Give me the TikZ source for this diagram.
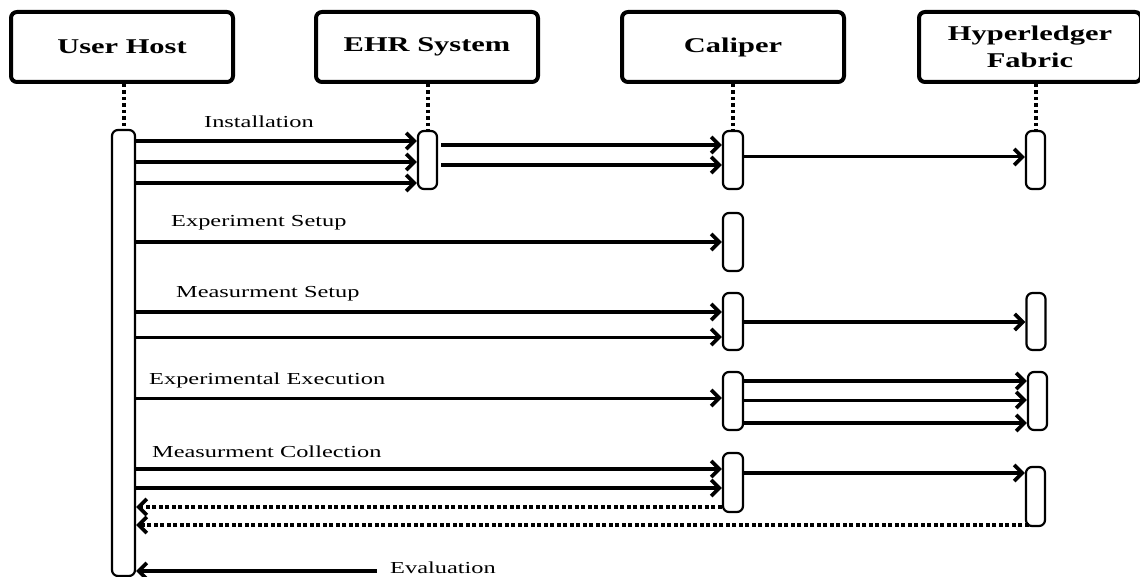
\documentclass[tikz,border=0pt]{standalone}
\usepackage{fontspec}
\setmainfont{Liberation Serif}[FakeStretch=1.45]
\usetikzlibrary{arrows.meta}
\begin{document}
\begin{tikzpicture}[x=1pt,y=-1pt,
  head/.style={draw, line width=4pt, rounded corners=6pt, minimum width=222pt,
    minimum height=70pt, inner sep=0pt, align=center,
    font=\fontsize{21}{26}\selectfont\bfseries},
  act/.style={draw, fill=white, line width=2.2pt, rounded corners=6pt,
    minimum width=20pt, inner sep=0pt},
  life/.style={line width=4pt, dash pattern=on 3.5pt off 3pt},
  msg/.style={line width=4pt, -{Straight Barb[length=8pt,width=16pt,line width=3.8pt]}},
  thinmsg/.style={line width=3pt, -{Straight Barb[length=8pt,width=16pt,line width=3.8pt]}},
  ret/.style={line width=3.5pt, dash pattern=on 4pt off 2.5pt,
    -{Straight Barb[length=8pt,width=16pt,line width=3.8pt]}},
  lab/.style={anchor=west, inner sep=0pt, font=\fontsize{16.8}{19}\selectfont}
]
\useasboundingbox (0,0) rectangle (1140,577);

% heads
\node[head] (uh) at (122,47) {User Host};
\node[head] (eh) at (427,47) {EHR System};
\node[head] (ch) at (733,47) {Caliper};
\node[head] (hh) at (1030,47) {Hyperledger\\[1pt]Fabric};

% activation boxes
\node[act, minimum width=23pt, minimum height=446pt] (ua) at (123.5,353) {};
\node[act, minimum width=19pt, minimum height=58pt] (ea) at (427.5,160) {};
\node[act, minimum height=58pt] (ca1) at (733,160) {};
\node[act, minimum width=19pt, minimum height=58pt] (ha1) at (1035.5,160) {};
\node[act, minimum height=58pt] (ca2) at (733,242) {};
\node[act, minimum height=57pt] (ca3) at (733,321.5) {};
\node[act, minimum width=19pt, minimum height=57pt] (ha3) at (1036,321.5) {};
\node[act, minimum height=58pt] (ca4) at (733,401) {};
\node[act, minimum width=19pt, minimum height=58pt] (ha4) at (1037.5,401) {};
\node[act, minimum height=59pt] (ca5) at (733,482.5) {};
\node[act, minimum width=19pt, minimum height=59pt] (ha5) at (1035.5,496.5) {};

% lifelines
\draw[life] (uh.south -| ua.north) -- (ua.north);
\draw[life] (eh.south -| ea.north) -- (ea.north);
\draw[life] (ch.south -| ca1.north) -- (ca1.north);
\draw[life] (hh.south -| ha1.north) -- (ha1.north);

% row coordinates
\foreach \yy in {141,145,157,162,165,183,242,312,322,337,381,398,400,423,469,473,488,507,525,571}
  {\coordinate (r\yy) at (0,\yy);}

% labels
\node[lab] (l1) at (204,122) {Installation};
\node[lab] (l2) at (171,223) {Experiment Setup};
\node[lab] (l3) at (176,294) {Measurment Setup};
\node[lab] (l4) at (149,380) {Experimental Execution};
\node[lab] (l5) at (152,452) {Measurment Collection};
\node[lab] (l6) at (390,568) {Evaluation};

% Installation
\draw[msg] (ua.east |- r141) -- (ea.west |- r141);
\draw[msg] (ua.east |- r162) -- (ea.west |- r162);
\draw[msg] (ua.east |- r183) -- (ea.west |- r183);
\draw[msg] ([xshift=3pt]ea.east |- r145) -- (ca1.west |- r145);
\draw[msg] ([xshift=3pt]ea.east |- r165) -- (ca1.west |- r165);
\draw[thinmsg] (ca1.east |- r157) -- (ha1.west |- r157);

% Experiment Setup
\draw[msg] (ua.east |- r242) -- (ca2.west |- r242);

% Measurment Setup
\draw[msg] (ua.east |- r312) -- (ca3.west |- r312);
\draw[thinmsg] (ua.east |- r337) -- (ca3.west |- r337);
\draw[msg] (ca3.east |- r322) -- (ha3.west |- r322);

% Experimental Execution
\draw[thinmsg] (ua.east |- r398) -- (ca4.west |- r398);
\draw[msg] (ca4.east |- r381) -- (ha4.west |- r381);
\draw[thinmsg] (ca4.east |- r400) -- (ha4.west |- r400);
\draw[msg] (ca4.east |- r423) -- (ha4.west |- r423);

% Measurment Collection
\draw[msg] (ua.east |- r469) -- (ca5.west |- r469);
\draw[msg] (ua.east |- r488) -- (ca5.west |- r488);
\draw[msg] (ca5.east |- r473) -- (ha5.west |- r473);
\draw[ret] (ca5.west |- r507) -- (ua.east |- r507);
\draw[ret] ([xshift=4pt]ha5.west |- r525) -- (ua.east |- r525);

% Evaluation
\draw[msg] ([xshift=-13pt]l6.west |- r571) -- (ua.east |- r571);
\end{tikzpicture}
\end{document}
